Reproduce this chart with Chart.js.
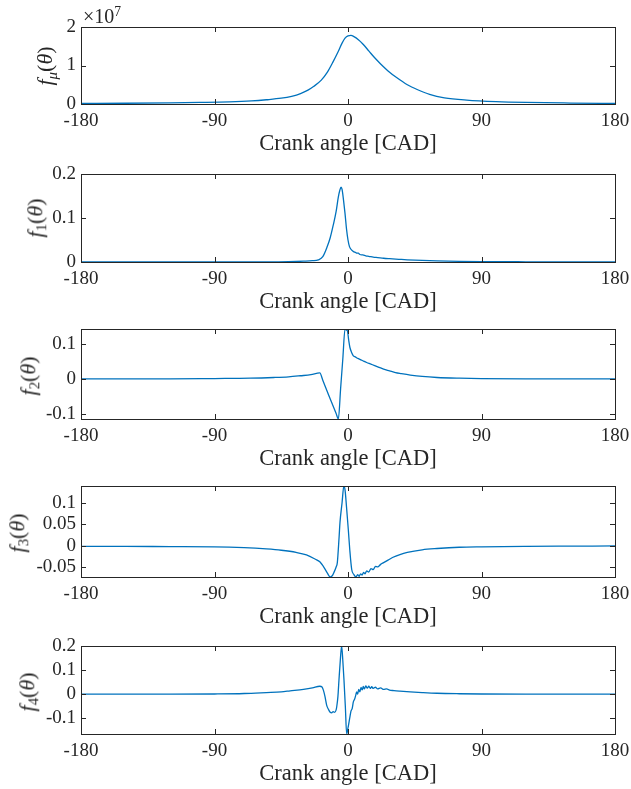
<!DOCTYPE html>
<html>
<head>
<meta charset="utf-8">
<script src="https://cdn.jsdelivr.net/npm/chart.js@4/dist/chart.umd.min.js"></script>
<style>
  body { margin: 0; background: #fff; width: 631px; height: 789px; position: relative; overflow: hidden;
         font-family: "Liberation Serif", serif; color: #262626; }
  canvas { position: absolute; left: 0; }
  .lbl { position: absolute; white-space: nowrap; font-size: 22.5px; line-height: 1; }
  .ylab { transform: translate(-50%, -50%) rotate(-90deg); font-size: 22px; }
  .xlab { transform: translate(-50%, -50%); }
  .lbl sub { font-size: 0.68em; vertical-align: -0.3em; font-style: normal; }
  .lbl sup { font-size: 0.68em; vertical-align: 0.55em; }
  .mult { font-size: 20px; }
</style>
</head>
<body>
<script>
// crank angle ticks
const xTicks = [-180, -90, 0, 90, 180];

// f_mu (in units of 1e7)
const angleMu = [-180, -150, -120, -100, -80, -65, -55, -45, -38, -32, -27, -23, -18, -14, -10, -7, -4, -2, 0, 2, 4,
  7, 10, 14, 18, 22, 27, 33, 40, 47, 55, 65, 80, 100, 120, 150, 180];
const fMu = [0.015, 0.02, 0.03, 0.04, 0.055, 0.08, 0.11, 0.15, 0.2, 0.27, 0.36, 0.46, 0.62, 0.82, 1.1, 1.33, 1.58, 1.71, 1.77, 1.78, 1.75,
  1.67, 1.56, 1.38, 1.2, 1.04, 0.86, 0.68, 0.5, 0.37, 0.25, 0.16, 0.1, 0.06, 0.04, 0.025, 0.015];
const yTicksMu = [0, 1, 2];

// f_1
const angle1 = [-180, -120, -80, -60, -40, -30, -24, -20, -17, -14, -12, -10, -8, -6.5, -5.5, -4.7, -4, -3, -2, -1,
  0, 1, 2.5, 4, 5, 6, 7, 8, 10, 12, 14, 17, 20, 24, 28, 35, 40, 50, 60, 75, 90, 120, 150, 180];
const f1 = [0, 0, 0, 0.0003, 0.001, 0.002, 0.003, 0.005, 0.012, 0.035, 0.055, 0.083, 0.115, 0.148, 0.163, 0.17, 0.165, 0.14, 0.11, 0.075,
  0.05, 0.035, 0.027, 0.023, 0.022, 0.02, 0.02, 0.017, 0.016, 0.014, 0.013, 0.011, 0.01, 0.0085, 0.0075, 0.006, 0.005, 0.0035, 0.0025, 0.0015, 0.001, 0.0005, 0.0002, 0];
const yTicks1 = [0, 0.1, 0.2];

// f_2
const angle2 = [-180, -120, -90, -66, -50, -40, -32, -25, -19, -17, -14, -11, -8, -6.5, -5, -3.5, -2, -1, -0.4, 0.5,
  1.3, 2.5, 3.6, 5, 6, 7, 8, 9, 10, 12.6, 15, 18, 21, 24, 28, 32, 36, 42, 50, 60, 75, 90, 120, 180];
const f2 = [0, 0, 0.001, 0.002, 0.004, 0.006, 0.009, 0.012, 0.017, -0.004, -0.036, -0.068, -0.099, -0.115, -0.029, 0.057, 0.143, 0.14, 0.138, 0.11,
  0.09, 0.075, 0.066, 0.063, 0.06, 0.058, 0.056, 0.054, 0.052, 0.047, 0.043, 0.038, 0.033, 0.028, 0.023, 0.018, 0.015, 0.011, 0.007, 0.004, 0.002, 0.001, 0, 0];
const yTicks2 = [-0.1, 0, 0.1];

// f_3
const angle3 = [-180, -150, -120, -90, -70, -55, -45, -35, -28, -22, -19, -16, -14, -12, -10.5, -9.5, -8, -7.2, -6, -5.4,
  -4, -2.8, -2, -1, 0.2, 1.2, 2.5, 4, 5.4, 6.5, 7.5, 8.5, 9.5, 10.5, 11.5, 12.6, 14, 15.5, 17, 18.5,
  20, 22, 24, 27, 30, 35, 40, 50, 60, 75, 90, 120, 150, 180];
const f3 = [-0.002, -0.002, -0.0025, -0.003, -0.005, -0.008, -0.011, -0.016, -0.022, -0.032, -0.038, -0.052, -0.064, -0.0735, -0.07, -0.063, -0.05, -0.04, 0.02, 0.054,
  0.1, 0.139, 0.13, 0.09, 0.0375, -0.01, -0.056, -0.068, -0.0735, -0.068, -0.072, -0.066, -0.069, -0.063, -0.066, -0.059, -0.062, -0.054, -0.056, -0.049,
  -0.05, -0.044, -0.04, -0.034, -0.028, -0.021, -0.016, -0.01, -0.007, -0.004, -0.003, -0.002, -0.0015, -0.001];
const yTicks3 = [-0.05, 0, 0.05, 0.1];

// f_4
const angle4 = [-180, -120, -90, -70, -55, -45, -39, -30, -24, -19, -17.5, -16.6, -15.5, -14.4, -13, -12, -11, -10, -9, -8,
  -7.6, -6.8, -6.1, -5.2, -4.3, -3.5, -2.7, -1.8, -0.9, 0, 1.3, 2, 2.8, 3.6, 4.5, 5.2, 5.8, 6.5, 7.2, 8,
  8.8, 9.6, 10.3, 11, 12, 13, 14, 15, 16, 17, 18.5, 20, 22, 24, 26, 28, 31, 35, 42, 50, 60, 75, 90, 120, 180];
const f4 = [0, 0, 0.001, 0.003, 0.007, 0.01, 0.014, 0.02, 0.026, 0.033, 0.03, 0.017, -0.01, -0.045, -0.065, -0.075, -0.077, -0.072, -0.075, -0.065,
  -0.052, -0.01, 0.058, 0.14, 0.2, 0.14, 0.058, -0.05, -0.165, -0.14, -0.094, -0.07, -0.06, -0.032, -0.02, -0.005, 0.01, 0, 0.02, 0.01,
  0.028, 0.018, 0.032, 0.022, 0.034, 0.025, 0.033, 0.024, 0.031, 0.024, 0.029, 0.022, 0.026, 0.02, 0.022, 0.017, 0.015, 0.013, 0.01, 0.007, 0.004, 0.002, 0.001, 0, 0];
const yTicks4 = [-0.1, 0, 0.1, 0.2];

const panels = [
  { x: angleMu, y: fMu, ticks: yTicksMu, min: 0, max: 2, top: 27, bottom: 104,
    ylabel: '<i>f</i><sub><i>μ</i></sub>(<i>θ</i>)', lx: 47, ly: 66 },
  { x: angle1, y: f1, ticks: yTicks1, min: 0, max: 0.2, top: 174, bottom: 262,
    ylabel: '<i>f</i><sub>1</sub>(<i>θ</i>)', lx: 37, ly: 218 },
  { x: angle2, y: f2, ticks: yTicks2, min: -0.115, max: 0.143, top: 329, bottom: 419,
    ylabel: '<i>f</i><sub>2</sub>(<i>θ</i>)', lx: 30, ly: 376 },
  { x: angle3, y: f3, ticks: yTicks3, min: -0.0735, max: 0.139, top: 486, bottom: 577,
    ylabel: '<i>f</i><sub>3</sub>(<i>θ</i>)', lx: 19, ly: 533 },
  { x: angle4, y: f4, ticks: yTicks4, min: -0.165, max: 0.2, top: 646, bottom: 734,
    ylabel: '<i>f</i><sub>4</sub>(<i>θ</i>)', lx: 29, ly: 692 }
];

const INK = '#262626';
const LEFT = 81, RIGHT = 615, PAD_TOP = 20, X_AXIS_H = 45;

// MATLAB-style box with inward ticks
const boxPlugin = {
  id: 'matlabBox',
  afterDraw(chart) {
    const { ctx, chartArea: a, scales: { x, y } } = chart;
    const len = 5;
    ctx.save();
    ctx.strokeStyle = INK;
    ctx.lineWidth = 1;
    ctx.beginPath();
    x.ticks.forEach((t) => {
      const px = Math.round(x.getPixelForValue(t.value)) + 0.5;
      ctx.moveTo(px, a.bottom); ctx.lineTo(px, a.bottom - len);
      ctx.moveTo(px, a.top); ctx.lineTo(px, a.top + len);
    });
    y.ticks.forEach((t) => {
      const py = Math.round(y.getPixelForValue(t.value)) + 0.5;
      ctx.moveTo(a.left, py); ctx.lineTo(a.left + len, py);
      ctx.moveTo(a.right, py); ctx.lineTo(a.right - len, py);
    });
    ctx.stroke();
    ctx.strokeRect(Math.round(a.left) + 0.5, Math.round(a.top) + 0.5,
      Math.round(a.right - a.left), Math.round(a.bottom - a.top));
    ctx.restore();
  }
};

function addLabel(html, cls, x, y) {
  const d = document.createElement('div');
  d.className = 'lbl ' + cls;
  d.innerHTML = html;
  d.style.left = x + 'px';
  d.style.top = y + 'px';
  document.body.appendChild(d);
}

const tickFont = { family: '"Liberation Serif", serif', size: 19 };

panels.forEach((p) => {
  const canvas = document.createElement('canvas');
  const h = PAD_TOP + (p.bottom - p.top) + X_AXIS_H;
  canvas.width = 631;
  canvas.height = h;
  canvas.style.top = (p.top - PAD_TOP) + 'px';
  document.body.appendChild(canvas);

  new Chart(canvas, {
    type: 'line',
    data: {
      datasets: [{
        data: p.x.map((a, i) => ({ x: a, y: p.y[i] })),
        borderColor: '#0072BD',
        borderWidth: 1.3,
        pointRadius: 0,
        cubicInterpolationMode: 'monotone'
      }]
    },
    options: {
      responsive: false,
      animation: false,
      layout: { padding: { top: PAD_TOP, right: 631 - RIGHT, left: 0, bottom: 0 } },
      plugins: { legend: { display: false }, tooltip: { enabled: false } },
      scales: {
        x: {
          type: 'linear', min: -180, max: 180,
          grid: { display: false, drawTicks: false },
          border: { display: false },
          afterBuildTicks: (s) => { s.ticks = xTicks.map((v) => ({ value: v })); },
          afterFit: (s) => { s.height = X_AXIS_H; s.paddingLeft = 0; s.paddingRight = 0; },
          ticks: { color: INK, font: tickFont, padding: 6, maxRotation: 0, autoSkip: false,
                   callback: (v) => String(v) }
        },
        y: {
          type: 'linear', min: p.min, max: p.max,
          grid: { display: false, drawTicks: false },
          border: { display: false },
          afterBuildTicks: (s) => { s.ticks = p.ticks.map((v) => ({ value: v })); },
          afterFit: (s) => { s.width = LEFT; s.paddingTop = 0; s.paddingBottom = 0; },
          ticks: { color: INK, font: tickFont, padding: 5, autoSkip: false,
                   callback: (v) => String(v) }
        }
      }
    },
    plugins: [boxPlugin]
  });

  addLabel(p.ylabel, 'ylab', p.lx, p.ly);
  addLabel('Crank angle [CAD]', 'xlab', 348, p.bottom + 39);
});

addLabel('×10<sup>7</sup>', 'mult', 83, 5);
</script>
</body>
</html>
